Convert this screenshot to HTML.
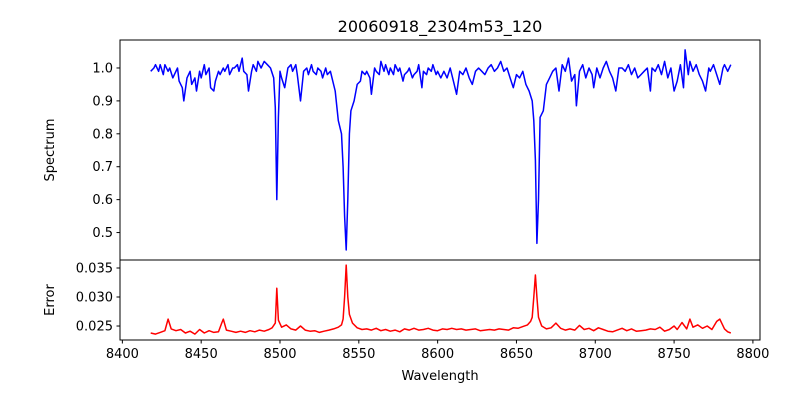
<!DOCTYPE html>
<html><head><meta charset="utf-8"><style>
body{margin:0;background:#fff;font-family:"Liberation Sans","DejaVu Sans",sans-serif}
svg text{font-family:"DejaVu Sans","Liberation Sans",sans-serif;font-size:13px;fill:#000}
</style></head><body>
<svg id="chart" width="800" height="400">
<rect width="800" height="400" fill="#fff"/>
<text x="440" y="32" text-anchor="middle" style="font-size:16px">20060918_2304m53_120</text>
<g id="topPanel"></g>
<g id="botPanel"></g>
<text x="440" y="380" text-anchor="middle">Wavelength</text>
<text transform="translate(54,150) rotate(-90)" text-anchor="middle">Spectrum</text>
<text transform="translate(54,300) rotate(-90)" text-anchor="middle">Error</text>
</svg>
<script>
const specWave=[8418,8420,8421,8423,8424,8426,8427,8429,8430,8432,8433,8435,8436,8438,8439,8441,8443,8444,8446,8447,8449,8450,8452,8453,8455,8456,8458,8459,8461,8462,8464,8465,8467,8468,8470,8471,8473,8474,8476,8477,8479,8480,8482,8483,8485,8486,8488,8490,8492,8494,8496,8497,8498,8499,8500,8501,8503,8505,8507,8508,8510,8511,8513,8515,8517,8518,8520,8521,8523,8524,8526,8527,8529,8530,8532,8533,8535,8537,8539,8540,8541,8542,8543,8544,8545,8547,8549,8551,8552,8554,8555,8557,8558,8560,8561,8563,8564,8566,8567,8569,8570,8572,8573,8575,8576,8578,8579,8581,8582,8584,8585,8587,8588,8590,8591,8593,8594,8596,8597,8599,8600,8602,8604,8606,8608,8610,8612,8614,8616,8618,8620,8622,8624,8626,8628,8630,8632,8634,8636,8638,8640,8642,8644,8646,8648,8650,8652,8654,8656,8658,8660,8661,8662,8663,8664,8665,8667,8669,8671,8673,8675,8677,8679,8681,8683,8685,8687,8688,8690,8692,8694,8696,8698,8699,8701,8703,8705,8707,8709,8711,8713,8715,8717,8719,8721,8723,8725,8727,8729,8731,8733,8735,8736,8738,8740,8742,8744,8746,8748,8750,8752,8754,8756,8757,8759,8760,8762,8764,8766,8768,8770,8772,8773,8775,8777,8779,8781,8782,8784,8786];
const specFlux=[0.99,1.0,1.01,0.99,1.01,0.98,1.01,0.99,1.0,0.97,0.98,1.0,0.96,0.94,0.9,0.97,0.99,0.95,0.97,0.93,0.99,0.97,1.01,0.98,1.0,0.94,0.93,0.96,0.99,0.98,1.0,0.99,1.01,0.98,1.0,1.0,1.01,0.99,1.03,0.99,0.98,0.93,0.99,1.01,0.99,1.02,1.0,1.02,1.01,1.0,0.97,0.88,0.6,0.85,0.99,0.97,0.94,1.0,1.01,0.99,1.01,0.98,0.9,0.99,1.0,0.98,1.01,0.99,0.98,1.0,0.99,0.97,1.0,0.98,0.99,0.97,0.93,0.84,0.8,0.7,0.55,0.447,0.6,0.8,0.87,0.9,0.95,0.96,0.99,0.98,0.99,0.97,0.92,1.0,0.99,0.98,1.02,0.99,1.01,0.98,1.0,0.98,1.01,0.99,1.0,0.96,0.98,0.99,1.0,0.97,0.98,0.99,1.01,0.94,0.99,0.98,1.0,0.99,1.01,0.98,0.99,0.97,0.99,0.97,1.0,0.96,0.92,0.99,0.98,1.0,0.97,0.95,0.99,1.0,0.99,0.98,1.0,1.01,0.99,1.0,1.02,0.99,1.0,0.97,0.94,0.98,0.97,0.99,0.95,0.93,0.9,0.84,0.72,0.467,0.6,0.85,0.87,0.95,0.97,0.99,1.0,0.93,1.01,0.99,1.03,0.96,0.98,0.885,0.99,1.01,0.97,1.0,0.98,0.94,1.0,0.97,1.0,1.02,0.99,0.97,0.93,1.0,1.0,0.99,1.01,0.98,1.0,0.97,0.98,0.99,1.0,0.93,1.0,0.99,1.01,0.98,1.02,0.97,1.0,0.93,0.96,1.01,0.94,1.055,0.98,1.02,0.99,1.01,0.98,0.96,0.93,1.0,0.99,1.01,0.98,0.95,1.0,1.01,0.99,1.01];
const errWave=[8418,8421,8424,8427,8429,8431,8434,8437,8440,8443,8446,8449,8452,8455,8458,8461,8463,8464,8466,8469,8472,8475,8478,8481,8484,8487,8490,8493,8495,8497,8498,8499,8501,8504,8507,8510,8513,8516,8519,8522,8525,8528,8531,8534,8537,8539,8540,8541,8542,8543,8544,8546,8549,8552,8555,8558,8561,8564,8567,8570,8573,8576,8579,8582,8585,8588,8591,8594,8597,8600,8603,8606,8609,8612,8615,8618,8621,8624,8627,8630,8633,8636,8639,8642,8645,8648,8651,8654,8657,8659,8660,8661,8662,8663,8664,8666,8669,8672,8675,8678,8681,8684,8687,8690,8693,8696,8699,8702,8705,8708,8711,8714,8717,8720,8723,8726,8729,8732,8735,8738,8741,8744,8747,8750,8752,8755,8758,8760,8762,8765,8768,8771,8774,8777,8779,8782,8784,8786];
const errVal=[0.0238,0.0236,0.0239,0.0242,0.0262,0.0245,0.0242,0.0244,0.0238,0.0241,0.0236,0.0244,0.0238,0.0242,0.0239,0.0240,0.0255,0.0262,0.0243,0.0241,0.0239,0.0241,0.0239,0.0242,0.0240,0.0243,0.0241,0.0244,0.0247,0.0255,0.0315,0.0260,0.0248,0.0252,0.0245,0.0243,0.0250,0.0243,0.0241,0.0242,0.0239,0.0241,0.0243,0.0245,0.0248,0.0252,0.0262,0.0300,0.0355,0.0300,0.0270,0.0255,0.0247,0.0244,0.0245,0.0243,0.0246,0.0242,0.0244,0.0241,0.0243,0.0240,0.0245,0.0243,0.0246,0.0243,0.0244,0.0246,0.0243,0.0242,0.0245,0.0244,0.0246,0.0244,0.0245,0.0243,0.0244,0.0245,0.0242,0.0243,0.0244,0.0243,0.0245,0.0244,0.0243,0.0247,0.0246,0.0249,0.0252,0.0258,0.0265,0.0300,0.0338,0.0300,0.0265,0.0250,0.0245,0.0247,0.0255,0.0246,0.0243,0.0245,0.0243,0.0251,0.0244,0.0246,0.0242,0.0247,0.0244,0.0241,0.0240,0.0243,0.0246,0.0242,0.0245,0.0241,0.0242,0.0243,0.0245,0.0244,0.0248,0.0241,0.0244,0.0250,0.0244,0.0256,0.0245,0.0262,0.0248,0.0252,0.0246,0.0250,0.0244,0.0258,0.0262,0.0245,0.0240,0.0238];
const xTicks=[8400,8450,8500,8550,8600,8650,8700,8750,8800];
const topTicks=[0.5,0.6,0.7,0.8,0.9,1.0];
const botTicks=[0.025,0.030,0.035];

const NS='http://www.w3.org/2000/svg';
const L=120,R=760,X0=8398.5,X1=8804.5;
const T1=40,B1=260,Y1min=0.4166,Y1max=1.085;
const T2=260,B2=340,Y2min=0.02259,Y2max=0.03638;
const xs=v=>L+(v-X0)/(X1-X0)*(R-L);
const y1=v=>B1-(v-Y1min)/(Y1max-Y1min)*(B1-T1);
const y2=v=>B2-(v-Y2min)/(Y2max-Y2min)*(B2-T2);
function mk(tag,attrs,parent){const e=document.createElementNS(NS,tag);for(const k in attrs)e.setAttribute(k,attrs[k]);parent.appendChild(e);return e;}
const topG=document.getElementById('topPanel'),botG=document.getElementById('botPanel');
const n1=Math.min(specWave.length,specFlux.length);
let d='';
for(let i=0;i<n1;i++)d+=(i?'L':'M')+xs(specWave[i]).toFixed(1)+' '+y1(specFlux[i]).toFixed(1);
const p1=mk('path',{d:d,fill:'none',stroke:'#0000ff','stroke-width':1.5,'stroke-linejoin':'round'},topG);


const n2=Math.min(errWave.length,errVal.length);
d='';
for(let i=0;i<n2;i++)d+=(i?'L':'M')+xs(errWave[i]).toFixed(1)+' '+y2(errVal[i]).toFixed(1);
const p2=mk('path',{d:d,fill:'none',stroke:'#ff0000','stroke-width':1.5,'stroke-linejoin':'round'},botG);


const f1=mk('rect',{x:L,y:T1,width:R-L,height:B1-T1,fill:'none',stroke:'#000','stroke-width':1},topG);


const f2=mk('rect',{x:L,y:T2,width:R-L,height:B2-T2,fill:'none',stroke:'#000','stroke-width':1},botG);


topTicks.forEach(t=>{const y=y1(t);mk('line',{x1:L-3.5,x2:L,y1:y,y2:y,stroke:'#000'},topG);
 const tx=mk('text',{x:L-7,y:y+4.5,'text-anchor':'end'},topG);tx.textContent=t.toFixed(1);
 
 });
botTicks.forEach(t=>{const y=y2(t);mk('line',{x1:L-3.5,x2:L,y1:y,y2:y,stroke:'#000'},botG);
 const tx=mk('text',{x:L-7,y:y+4.5,'text-anchor':'end'},botG);tx.textContent=t.toFixed(3);
 
 });
xTicks.forEach(t=>{const x=xs(t);mk('line',{x1:x,x2:x,y1:B2,y2:B2+3.5,stroke:'#000'},botG);
 const tx=mk('text',{x:x,y:B2+18,'text-anchor':'middle'},botG);tx.textContent=t;
 
 });
</script>
</body></html>
